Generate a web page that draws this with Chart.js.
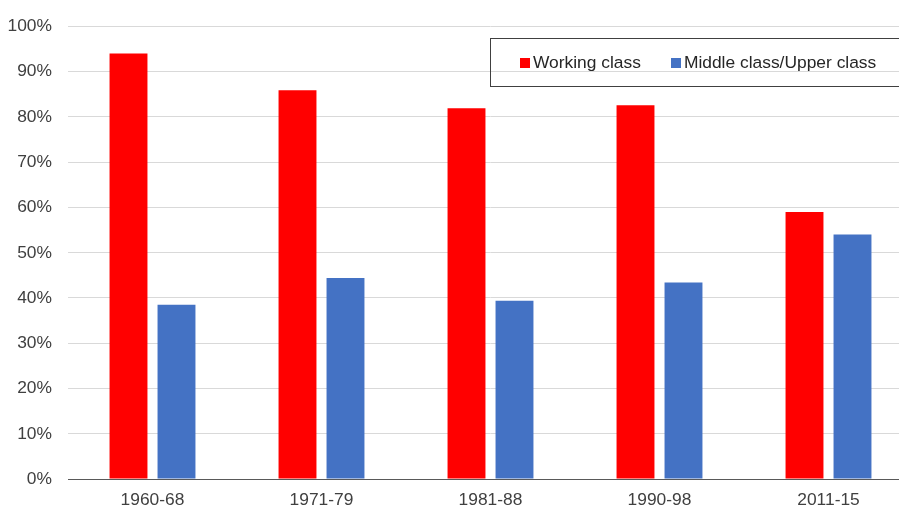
<!DOCTYPE html>
<html>
<head>
<meta charset="utf-8">
<script src="https://cdn.jsdelivr.net/npm/chart.js@4"></script>
<style>
  html, body { margin: 0; padding: 0; background: #fff; overflow: hidden; }
  #wrap { position: relative; width: 915px; height: 506px; }
  #legend {
    position: absolute; left: 490px; top: 38px; width: 440px; height: 49px;
    border: 1px solid #404040; box-sizing: border-box;
    font: 17.4px "Liberation Sans", Arial, sans-serif; color: #262626;
    display: flex; align-items: center; padding-left: 29px;
  }
  #legend .item { display: flex; align-items: center; margin-right: 30px; }
  #legend .sw { width: 10px; height: 10px; margin-right: 3px; }
</style>
</head>
<body>
<div id="wrap">
  <canvas id="graph"></canvas>
  <div id="legend"></div>
</div>
<script>
const periodos = ['1960-68', '1971-79', '1981-88', '1990-98', '2011-15'];
const working = [94.0, 85.9, 81.9, 82.6, 59.0];
const middle = [38.5, 44.4, 39.4, 43.4, 54.0];
const nombres = ['Working class', 'Middle class/Upper class'];
const colores = ['#FF0000', '#4472C4'];
const ticksY = [0, 10, 20, 30, 40, 50, 60, 70, 80, 90, 100];

const fuente = { family: '"Liberation Sans", Arial, sans-serif', size: 17.4 };

const dataset1 = {
    label: nombres[0],
    data: working,
    backgroundColor: colores[0],
    barPercentage: 0.79,
    categoryPercentage: 0.568
};

const dataset2 = {
    label: nombres[1],
    data: middle,
    backgroundColor: colores[1],
    barPercentage: 0.79,
    categoryPercentage: 0.568
};

const graph = document.querySelector('#graph');

new Chart(graph, {
    type: 'bar',
    data: { labels: periodos, datasets: [dataset1, dataset2] },
    options: {
        responsive: true,
        maintainAspectRatio: false,
        animation: false,
        layout: { padding: { top: 25, right: 2, left: 0, bottom: 0 } },
        plugins: { legend: { display: false }, tooltip: { enabled: false } },
        scales: {
            x: {
                grid: { display: false, drawTicks: false },
                border: { display: true, color: '#595959', width: 1 },
                ticks: { color: '#404040', padding: 11, font: fuente },
                afterFit: (s) => { s.height = 27; }
            },
            y: {
                min: 0, max: 100,
                afterBuildTicks: (s) => { s.ticks = ticksY.map(v => ({ value: v })); },
                grid: { color: '#d9d9d9', lineWidth: 1, drawTicks: false },
                border: { display: false },
                ticks: {
                    color: '#404040', padding: 16, font: fuente,
                    callback: (v) => v + '%'
                },
                afterFit: (s) => { s.width = 68; }
            }
        }
    }
});

// leyenda
const leyenda = document.getElementById('legend');
nombres.forEach((n, i) => {
    const item = document.createElement('div');
    item.className = 'item';
    const sw = document.createElement('span');
    sw.className = 'sw';
    sw.style.background = colores[i];
    const txt = document.createElement('span');
    txt.textContent = n;
    item.appendChild(sw);
    item.appendChild(txt);
    leyenda.appendChild(item);
});
</script>
</body>
</html>
